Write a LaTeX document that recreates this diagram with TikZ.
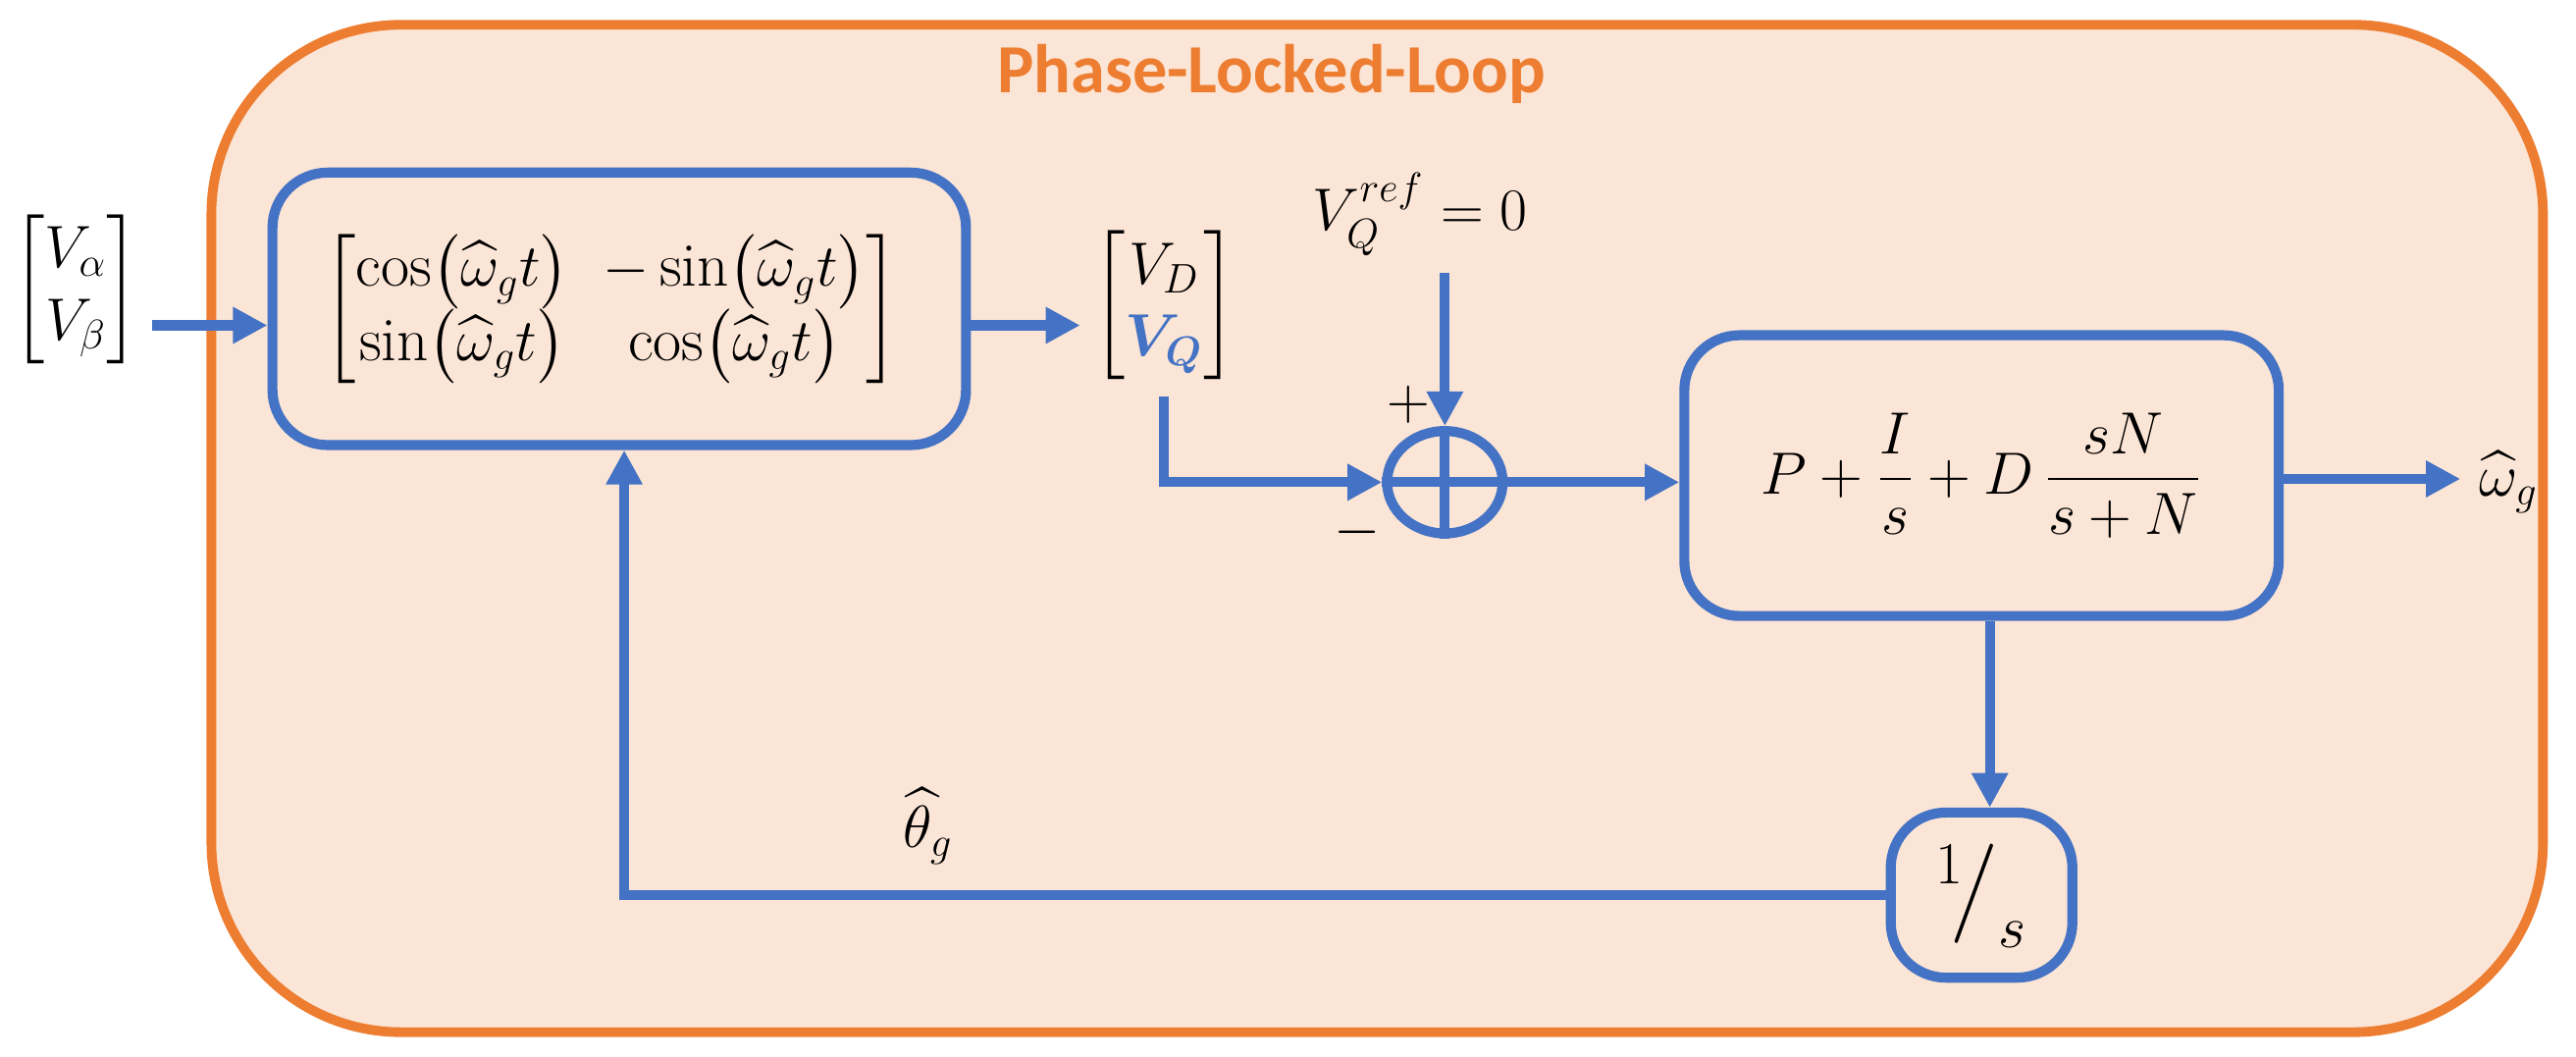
\documentclass[tikz,border=0pt]{standalone}
\usepackage{amsmath,amssymb,bm}
\usepackage{fontspec}
\newfontfamily\titlefont{Carlito}
\usetikzlibrary{arrows.meta,shapes.geometric}
\definecolor{ored}{HTML}{ED7D31}
\definecolor{ofill}{HTML}{FBE5D6}
\definecolor{bl}{HTML}{4472C4}
\begin{document}
\begin{tikzpicture}[x=0.01683cm,y=-0.01683cm,
  line/.style={bl,line width=2.9pt},
  arr/.style={line,-{Triangle[length=10pt,width=10pt]}},
  blk/.style={draw=bl,line width=2.9pt,rounded corners=16pt,inner sep=0pt},
  txt/.style={font=\fontsize{18}{21}\selectfont}]
\useasboundingbox (0,0) rectangle (1560,640);
\node[draw=ored,fill=ofill,line width=2.8pt,rounded corners=55pt,minimum width=1412*0.01683cm,minimum height=610*0.01683cm] (pll) at (834,320) {};
\node[text=ored,font=\titlefont\bfseries\fontsize{20}{24}\selectfont] (title) at (770,45) {Phase-Locked-Loop};
\node[txt] (vin) at (46,175) {$\begin{bmatrix}V_\alpha\\ V_\beta\end{bmatrix}$};
\node[blk,minimum width=420*0.01683cm,minimum height=165*0.01683cm] (park) at (375,187) {};
\node[txt] (parkt) at (370,187) {$\begin{bmatrix}\cos\!\big(\widehat{\omega}_g t\big) & -\sin\!\big(\widehat{\omega}_g t\big)\\ \sin\!\big(\widehat{\omega}_g t\big) & \cos\!\big(\widehat{\omega}_g t\big)\end{bmatrix}$};
\node[txt] (vdq) at (705,185) {$\begin{bmatrix}V_D\\ \color{bl}\bm{V_Q}\end{bmatrix}$};
\node[txt] (vref) at (860,130) {$V_Q^{ref}=0$};
\node[draw=bl,line width=2.9pt,ellipse,minimum width=70*0.01683cm,minimum height=62*0.01683cm,inner sep=0pt] (sum) at (875,292) {};
\draw[line] (sum.north) -- (sum.south) (sum.west) -- (sum.east);
\node[txt] (plus) at (853,245) {$+$};
\node[txt] (minus) at (822,322) {$-$};
\node[blk,minimum width=360*0.01683cm,minimum height=170*0.01683cm] (pid) at (1200,288) {};
\node[txt] (pidt) at (1200,288) {$P+\dfrac{I}{s}+D\,\dfrac{sN}{s+N}$};
\node[blk,minimum width=110*0.01683cm,minimum height=100*0.01683cm] (int) at (1200,542) {};
\node[font=\fontsize{24}{28}\selectfont] (intt) at (1200,542) {${}^{1}\!\big/_{s}$};
\coordinate (wout) at (1490,290);
\node[txt,anchor=west] (wlab) at (1494,292) {$\widehat{\omega}_g$};
\node[txt] (thlab) at (562,500) {$\widehat{\theta}_g$};
\coordinate (c1) at (705,240);
\coordinate (c2) at (705,292);
\coordinate (c3) at (378,542);
\draw[arr] (vin.east |- 0,197) -- (park.west |- 0,197);
\draw[arr] (park.east |- 0,197) -- (vdq.west |- 0,197);
\draw[arr] (875,165) -- (sum.north);
\draw[arr] (c1) -- (c2) -- (sum.west);
\draw[arr] (sum.east) -- (pid.west |- sum.east);
\draw[arr] (pid.east |- 0,290) -- (wout);
\draw[arr] (pid.south -| 1205,0) -- (int.north -| 1205,0);
\draw[arr] (int.west) -- (c3) -- (park.south -| c3);
\end{tikzpicture}
\end{document}
